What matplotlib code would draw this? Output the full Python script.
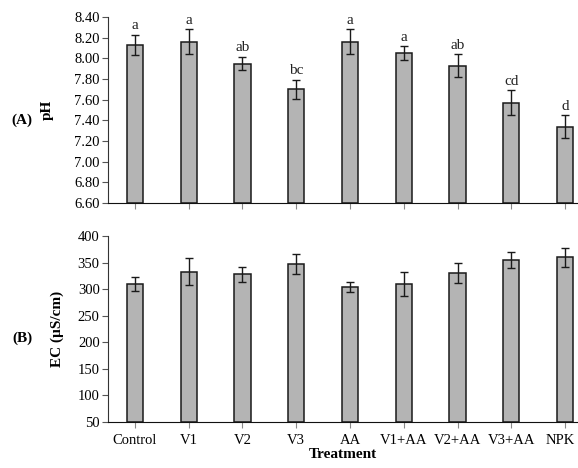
import matplotlib
matplotlib.use("Agg")
import matplotlib.pyplot as plt
from matplotlib.transforms import ScaledTranslation

# treatment means, standard errors and significance letters
treatments = ["Control", "V1", "V2", "V3", "AA", "V1+AA", "V2+AA", "V3+AA", "NPK"]
ph_mean = [8.13, 8.16, 7.95, 7.70, 8.16, 8.05, 7.93, 7.57, 7.34]
ph_err = [0.10, 0.12, 0.065, 0.09, 0.12, 0.065, 0.11, 0.12, 0.11]
ph_letters = ["a", "a", "ab", "bc", "a", "a", "ab", "cd", "d"]
ec_mean = [310, 333, 328, 348, 304, 310, 330, 355, 360]
ec_err = [13, 25, 14, 19, 9, 22, 19, 15, 18]

plt.rcParams["font.family"] = ["Liberation Serif", "DejaVu Serif"]

W, H = 578, 468
fig = plt.figure(figsize=(W / 100, H / 100), dpi=100)

def px_axes(left, top, right, bottom):
    return fig.add_axes([left / W, 1 - bottom / H, (right - left) / W, (bottom - top) / H])

bar_kw = dict(width=0.3, color="#b4b4b4", edgecolor="#1a1a1a", linewidth=1.1)
err_kw = dict(ecolor="#1a1a1a", elinewidth=1.0, capsize=2.8, capthick=1.0)

def style(ax):
    for s in ["top", "right"]:
        ax.spines[s].set_visible(False)
    ax.spines["left"].set_color("#333333")
    ax.spines["bottom"].set_color("#111111")
    ax.tick_params(axis="y", labelsize=10.5, length=4, color="#555555", pad=2)
    ax.tick_params(axis="x", length=4, color="#888888")
    ax.set_xlim(-0.5, len(treatments) - 0.5)
    ax.set_xticks(range(len(treatments)))

x = list(range(len(treatments)))

# (A) pH
ax1 = px_axes(108, 17, 592, 203)
ax1.bar(x, [m - 6.6 for m in ph_mean], bottom=6.6, **bar_kw)
ax1.errorbar(x, ph_mean, yerr=ph_err, fmt="none", **err_kw)
style(ax1)
ax1.set_ylim(6.6, 8.4)
ax1.set_yticks([6.6 + 0.2 * i for i in range(10)])
ax1.set_yticklabels([f"{6.6 + 0.2 * i:.2f}" for i in range(10)])
ax1.set_xticklabels([])
for xi, m, e, lab in zip(x, ph_mean, ph_err, ph_letters):
    ax1.text(xi, m + e + 0.025, lab, ha="center", va="bottom", fontsize=11, color="#222222")
ax1.set_ylabel("pH", fontsize=11, fontweight="bold")
ax1.yaxis.set_label_coords(-0.112, 0.5)
fig.text(22 / W, 1 - 120 / H, "(A)", fontsize=11, fontweight="bold", ha="center", va="center")

# (B) EC
ax2 = px_axes(108, 236, 592, 422)
ax2.bar(x, [m - 50 for m in ec_mean], bottom=50, **bar_kw)
ax2.errorbar(x, ec_mean, yerr=ec_err, fmt="none", **err_kw)
style(ax2)
ax2.set_ylim(50, 400)
ax2.set_yticks(range(50, 401, 50))
ax2.set_xticklabels(treatments, fontsize=10.5)
ax2.tick_params(axis="x", pad=5)
# nudge the last label so it stays inside the figure
last = ax2.get_xticklabels()[-1]
last.set_transform(last.get_transform() + ScaledTranslation(-0.05, 0, fig.dpi_scale_trans))
ax2.set_ylabel("EC (\u00b5S/cm)", fontsize=11, fontweight="bold")
ax2.yaxis.set_label_coords(-0.09, 0.5)
fig.text(343 / W, 1 - 454 / H, "Treatment", fontsize=11, fontweight="bold", ha="center", va="center")
fig.text(22 / W, 1 - 338 / H, "(B)", fontsize=11, fontweight="bold", ha="center", va="center")

fig.savefig("out.png", dpi=100)
